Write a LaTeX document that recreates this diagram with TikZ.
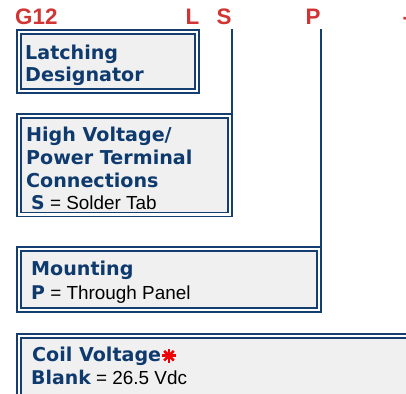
\documentclass[tikz,border=0pt]{standalone}
\usepackage{fontspec}
\setmainfont{Liberation Sans}
\newfontfamily\vfont{DejaVu Sans}
\definecolor{navy}{RGB}{20,62,112}
\definecolor{hdr}{RGB}{14,58,110}
\definecolor{lblred}{RGB}{210,52,52}
\definecolor{boxfill}{RGB}{240,240,240}
\definecolor{astred}{RGB}{240,0,0}
\begin{document}
\begin{tikzpicture}[x=1pt,y=-1pt,
  box/.style={draw=navy, line width=1.7pt, double=white, double distance=2.3pt,
    fill=boxfill, rectangle, inner sep=0pt, outer sep=2.85pt, anchor=north west},
  conn/.style={draw=navy, line width=1.8pt},
  code/.style={font=\fontsize{22.4}{24}\selectfont\bfseries, text=lblred, inner sep=0pt, anchor=base west},
  head/.style={font=\vfont\fontsize{19.1}{22}\selectfont\bfseries, text=hdr, inner sep=0pt, anchor=base west},
  val/.style={font=\fontsize{18.9}{22}\selectfont, text=black, inner sep=0pt, anchor=base west}]
\useasboundingbox (0,0) rectangle (406,393);
\clip (0,0) rectangle (406,393);

% code letters
\node[code] (cG) at (15,25) {G12};
\node[code] (cL) at (185.5,25) {L};
\node[code] (cS) at (216.5,25) {S};
\node[code] (cP) at (305.5,25) {P};
\node[code] (cD) at (402.5,25) {-};

% boxes (anchor = outer edge of the double border)
\node[box, minimum width=178pt, minimum height=59pt] (b1) at (16.15,29.15) {};
\node[box, minimum width=210.7pt, minimum height=98.5pt] (b2) at (16.15,113.15) {};
\node[box, minimum width=300pt, minimum height=61.3pt] (b3) at (16.15,246.15) {};
\node[box, minimum width=420pt, minimum height=100pt] (b4) at (16.15,333.45) {};

% connectors
\coordinate (sTop) at (231.7,29.3);
\coordinate (pTop) at (321,29.3);
\draw[conn] (sTop) -- (sTop |- b2.north);
\draw[conn] (pTop) -- (pTop |- b3.north);

% box 1 text
\node[head] (t1a) at (25,59.3) {Latching};
\node[head] (t1b) at (25,81.5) {Designator};

% box 2 text
\node[head] (t2a) at (26,141) {High Voltage/};
\node[head] (t2b) at (26,164) {Power Terminal};
\node[head] (t2c) at (26,187) {Connections};
\node[val] (t2d) at (31,209) {{\vfont\bfseries\color{hdr}S} = Solder Tab};

% box 3 text
\node[head] (t3a) at (31,275) {Mounting};
\node[val] (t3b) at (31,299) {{\vfont\bfseries\color{hdr}P} = Through Panel};

% box 4 text
\node[head] (t4a) at (32,361.7) {Coil Voltage};
\node[val] (t4b) at (31,384.5) {{\vfont\bfseries\color{hdr}Blank} = 26.5 Vdc};

% red asterisk
\coordinate (ast) at ([xshift=7.6pt,yshift=6pt]t4a.base east);
\fill[astred, shift={(ast)}] (0,0) circle (3.6);
\foreach \a in {0,45,90,135}
  \draw[astred, line width=2.6pt, shift={(ast)}] (\a:6.8) -- (\a+180:6.8);
\end{tikzpicture}
\end{document}
